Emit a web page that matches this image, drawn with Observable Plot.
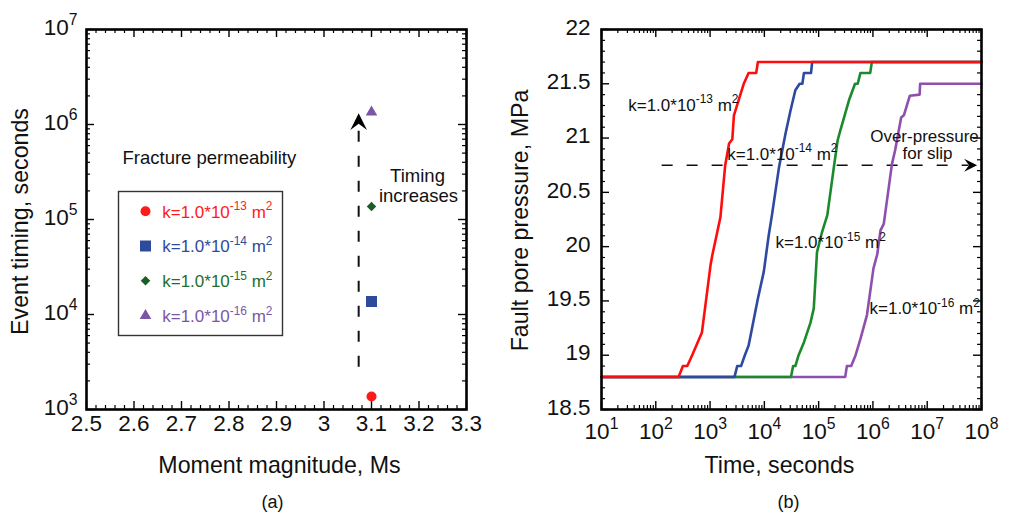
<!DOCTYPE html>
<html><head><meta charset="utf-8">
<script src="https://cdn.jsdelivr.net/npm/d3@7"></script>
<script src="https://cdn.jsdelivr.net/npm/@observablehq/plot@0.6"></script>
<style>
html,body{margin:0;padding:0;background:#fff;}
#wrap{position:relative;width:1011px;height:512px;overflow:hidden;background:#fff;}
#left{position:absolute;left:0;top:0;}
#right{position:absolute;left:500px;top:0;}
</style></head><body>
<div id="wrap"><div id="left"></div><div id="right"></div></div>
<script>
// ---------- Panel (a) data ----------
const seriesKeys = ["k13", "k14", "k15", "k16"];
const permLabels = ["k=1.0*10^{-13} m^{2}", "k=1.0*10^{-14} m^{2}", "k=1.0*10^{-15} m^{2}", "k=1.0*10^{-16} m^{2}"];
const momentMagnitude = [3.1, 3.1, 3.1, 3.1];
const eventTiming = [1370, 13700, 137000, 1350000];
const markerSymbols = ["circle", "square", "diamond2", "triangle"];
const markerColors = ["#ff1a1a", "#2e4b9b", "#1a5e26", "#7c56a6"];
const legendTextColors = ["#ff1a1a", "#2e4b9b", "#1f6e2b", "#7c56a6"];
const magTickValues = [2.5, 2.6, 2.7, 2.8, 2.9, 3.0, 3.1, 3.2, 3.3];
const magTickLabels = ["2.5", "2.6", "2.7", "2.8", "2.9", "3", "3.1", "3.2", "3.3"];
const timingTickValues = [1e3, 1e4, 1e5, 1e6, 1e7];
const timingTickLabels = ["10^{3}", "10^{4}", "10^{5}", "10^{6}", "10^{7}"];
const timingArrowX = 3.073;
const timingArrowY = [2790, 980000, 1310000]; // dashed start, dashed end, tip

// ---------- Panel (b) data ----------
const redTime = [10, 263, 316, 380, 468, 617, 708, 1020, 1100, 1550, 1900, 2240, 2570, 2750, 4170, 5130, 7080, 7590, 1e8];
const redPressure = [18.8, 18.8, 18.9, 18.9, 19.0, 19.14, 19.21, 19.83, 19.92, 20.27, 20.75, 20.95, 20.99, 21.21, 21.5, 21.6, 21.6, 21.7, 21.7];
const blueTime = [10, 2820, 3160, 3720, 4370, 5130, 7590, 9770, 12000, 13800, 18600, 24500, 30200, 37200, 44700, 50100, 53700, 72400, 75900, 1e8];
const bluePressure = [18.8, 18.8, 18.9, 18.9, 19.0, 19.09, 19.52, 19.77, 20.10, 20.29, 20.73, 21.04, 21.25, 21.44, 21.5, 21.5, 21.6, 21.6, 21.7, 21.7];
const greenTime = [10, 30900, 33900, 37200, 42700, 53700, 70800, 81300, 93300, 114800, 144500, 190500, 223900, 251200, 363100, 467700, 524800, 588800, 891300, 955000, 1e8];
const greenPressure = [18.8, 18.8, 18.9, 18.9, 19.0, 19.12, 19.30, 19.43, 19.95, 20.13, 20.29, 20.73, 20.98, 21.07, 21.35, 21.5, 21.5, 21.6, 21.6, 21.7, 21.7];
const purpleTime = [10, 309000, 331000, 398000, 479000, 589000, 776000, 1023000, 1202000, 1380000, 1585000, 2239000, 2570000, 3311000, 3715000, 4786000, 7244000, 7413000, 1e8];
const purplePressure = [18.8, 18.8, 18.9, 18.9, 19.0, 19.15, 19.37, 19.80, 19.93, 20.15, 20.21, 20.76, 20.89, 21.19, 21.21, 21.39, 21.4, 21.5, 21.5];
const curveColors = ["#ff0d0d", "#2d4aa0", "#1c8a2c", "#8f4fae"];
const timeTickValues = [1e1, 1e2, 1e3, 1e4, 1e5, 1e6, 1e7, 1e8];
const timeTickLabels = ["10^{1}", "10^{2}", "10^{3}", "10^{4}", "10^{5}", "10^{6}", "10^{7}", "10^{8}"];
const pressureTickValues = [18.5, 19, 19.5, 20, 20.5, 21, 21.5, 22];
const pressureTickLabels = ["18.5", "19", "19.5", "20", "20.5", "21", "21.5", "22"];
const overPressure = 20.75;
const overPressureArrow = [131, 5.9e7, 8.3e7]; // dashed start, dashed end, tip

// ---------- helpers ----------
const FONT = "'Liberation Sans', Arial, Helvetica, sans-serif";
const FRAME = 380;
const TICK_FS = 22.5, TITLE_FS = 23.2;
const stealth = {
  draw(ctx, size) {
    const L = Math.sqrt(size / Math.PI) * 2;
    ctx.moveTo(0, 0);
    ctx.lineTo(L * 0.5, L);
    ctx.lineTo(0, L * 0.62);
    ctx.lineTo(-L * 0.5, L);
    ctx.closePath();
  }
};
function xTicks(values, len, w) {
  return [
    Plot.ruleX(values, {x: d => d, insetTop: FRAME - len, stroke: "#000", strokeWidth: w}),
    Plot.ruleX(values, {x: d => d, insetBottom: FRAME - len, stroke: "#000", strokeWidth: w})
  ];
}
function yTicks(values, len, w) {
  return [
    Plot.ruleY(values, {y: d => d, insetRight: FRAME - len, stroke: "#000", strokeWidth: w}),
    Plot.ruleY(values, {y: d => d, insetLeft: FRAME - len, stroke: "#000", strokeWidth: w})
  ];
}
function logMinor(k0, k1) {
  const out = [];
  for (let k = k0; k < k1; k++) for (let m = 2; m <= 9; m++) out.push(m * Math.pow(10, k));
  return out;
}
function applySup(svg) {
  for (const t of svg.querySelectorAll("text")) {
    const s = t.textContent;
    if (!s.includes("^{")) continue;
    const parts = s.split(/\^\{([^}]*)\}/);
    t.textContent = "";
    let raised = false;
    parts.forEach((p, i) => {
      if (p === "") return;
      const ts = document.createElementNS("http://www.w3.org/2000/svg", "tspan");
      ts.textContent = p;
      if (i % 2 === 1) { ts.setAttribute("font-size", "70%"); ts.setAttribute("dy", "-0.6em"); raised = true; }
      else if (raised) { ts.setAttribute("dy", "0.42em"); raised = false; }
      t.appendChild(ts);
    });
  }
}
const label = (txt, o) => Plot.text([txt], {frameAnchor: "top-left", textAnchor: "start", lineAnchor: "bottom", fill: "#111", ...o});
const clabel = (txt, o) => Plot.text([txt], {frameAnchor: "top-left", textAnchor: "middle", lineAnchor: "bottom", fill: "#111", ...o});

// ---------- Panel (a) ----------
const pointData = seriesKeys.map((k, i) => ({key: k, m: momentMagnitude[i], t: eventTiming[i]}));
const magMinor = d3.range(0, 41).filter(i => i % 5 !== 0).map(i => 2.5 + i * 0.02);
const symbolR = [5, 6.2, 4.3, 4.3];

const left = Plot.plot({
  width: 500, height: 512,
  marginLeft: 86, marginRight: 34, marginTop: 29, marginBottom: 103,
  x: {domain: [2.5, 3.3], axis: null},
  y: {type: "log", domain: [1e3, 1e7], axis: null},
  style: {fontFamily: FONT, background: "white", overflow: "visible"},
  marks: [
    ...xTicks(magTickValues, 8, 1.4),
    ...xTicks(magMinor, 4, 1.2),
    ...yTicks(timingTickValues, 8, 1.4),
    ...yTicks(logMinor(3, 7), 4, 1.2),
    Plot.frame({stroke: "#000", strokeWidth: 2.6}),
    // tick labels
    Plot.text(magTickValues, {x: d => d, text: (d, i) => magTickLabels[i], frameAnchor: "bottom", dy: 21, fontSize: TICK_FS, fill: "#111"}),
    Plot.text(timingTickValues, {y: d => d, text: (d, i) => timingTickLabels[i], frameAnchor: "left", dx: -9, dy: -2, textAnchor: "end", fontSize: TICK_FS, fill: "#111"}),
    // axis titles
    Plot.text(["Moment magnitude, Ms"], {frameAnchor: "bottom", textAnchor: "middle", dx: 3, dy: 63, lineAnchor: "bottom", fontSize: TITLE_FS, fill: "#111"}),
    Plot.text(["Event timing, seconds"], {frameAnchor: "left", textAnchor: "middle", dx: -66, dy: 2, rotate: -90, fontSize: TITLE_FS, fill: "#111"}),
    Plot.text(["(a)"], {frameAnchor: "bottom", textAnchor: "middle", dx: -4, dy: 98, lineAnchor: "bottom", fontSize: 18, fill: "#111"}),
    // timing arrow
    Plot.ruleX([timingArrowX], {x: d => d, y1: timingArrowY[0], y2: timingArrowY[1], stroke: "#111", strokeWidth: 2, strokeDasharray: "11,14"}),
    Plot.dot([timingArrowX], {x: d => d, y: timingArrowY[2], symbol: stealth, r: 8.3, fill: "#000", stroke: "none"}),
    // data points
    ...pointData.map((d, i) => Plot.dot([d], {x: "m", y: "t", symbol: markerSymbols[i], r: symbolR[i], fill: markerColors[i], stroke: "none"})),
    // annotations
    label("Fracture permeability", {dx: 36, dy: 134.3, fontSize: 18.5}),
    clabel("Timing", {dx: 331, dy: 152, fontSize: 18.5}),
    clabel("increases", {dx: 332, dy: 172.7, fontSize: 18.5}),
    // legend
    Plot.frame({insetLeft: 32, insetTop: 162, insetRight: 184, insetBottom: 74, stroke: "#333", strokeWidth: 1.4}),
    ...seriesKeys.map((k, i) => Plot.dot([k], {frameAnchor: "top-left", dx: 59, dy: 181.7 + i * 34.8, symbol: markerSymbols[i], r: symbolR[i], fill: markerColors[i], stroke: "none"})),
    ...seriesKeys.map((k, i) => label(permLabels[i], {dx: 75.7, dy: 188 + i * 34.8, fontSize: 17, fill: legendTextColors[i]}))
  ]
});
applySup(left);
document.getElementById("left").appendChild(left);

// ---------- Panel (b) ----------
const curves = [
  {t: purpleTime, p: purplePressure, c: curveColors[3]},
  {t: greenTime, p: greenPressure, c: curveColors[2]},
  {t: blueTime, p: bluePressure, c: curveColors[1]},
  {t: redTime, p: redPressure, c: curveColors[0]}
];
const pressMinor = d3.range(0, 36).filter(i => i % 5 !== 0).map(i => 18.5 + i * 0.1);

const right = Plot.plot({
  width: 511, height: 512,
  marginLeft: 101, marginRight: 30, marginTop: 29, marginBottom: 103,
  x: {type: "log", domain: [1e1, 1e8], axis: null},
  y: {domain: [18.5, 22], axis: null},
  style: {fontFamily: FONT, background: "white", overflow: "visible"},
  marks: [
    ...xTicks(timeTickValues, 8, 1.4),
    ...xTicks(logMinor(1, 8), 4, 1.2),
    ...yTicks(pressureTickValues, 8, 1.4),
    ...yTicks(pressMinor, 4, 1.2),
    // over-pressure arrow
    Plot.ruleY([overPressure], {y: d => d, x1: overPressureArrow[0], x2: overPressureArrow[1], stroke: "#111", strokeWidth: 1.6, strokeDasharray: "11,14"}),
    Plot.dot([overPressure], {x: overPressureArrow[2], y: d => d, symbol: stealth, r: 6.5, rotate: 90, fill: "#000", stroke: "none"}),
    // curves
    ...curves.map(c => Plot.line(c.t.map((t, i) => ({t, p: c.p[i]})), {x: "t", y: "p", stroke: c.c, strokeWidth: 2.6, strokeLinejoin: "round"})),
    Plot.frame({stroke: "#000", strokeWidth: 2.6}),
    // tick labels
    Plot.text(timeTickValues, {x: d => d, text: (d, i) => timeTickLabels[i], frameAnchor: "bottom", textAnchor: "middle", dy: 29, fontSize: TICK_FS, fill: "#111"}),
    Plot.text(pressureTickValues, {y: d => d, text: (d, i) => pressureTickLabels[i], frameAnchor: "left", dx: -11, dy: -2, textAnchor: "end", fontSize: TICK_FS, fill: "#111"}),
    // axis titles
    Plot.text(["Time, seconds"], {frameAnchor: "bottom", textAnchor: "middle", dx: -12, dy: 63.5, lineAnchor: "bottom", fontSize: TITLE_FS, fill: "#111"}),
    Plot.text(["Fault pore pressure, MPa"], {frameAnchor: "left", textAnchor: "middle", dx: -81, dy: 1, rotate: -90, fontSize: TITLE_FS, fill: "#111"}),
    Plot.text(["(b)"], {frameAnchor: "bottom", textAnchor: "middle", dx: -3, dy: 98, lineAnchor: "bottom", fontSize: 18, fill: "#111"}),
    // annotations
    label(permLabels[0], {dx: 26.7, dy: 81, fontSize: 17}),
    label(permLabels[1], {dx: 125.7, dy: 130, fontSize: 17}),
    label(permLabels[2], {dx: 174, dy: 218.7, fontSize: 17}),
    label(permLabels[3], {dx: 268, dy: 284.3, fontSize: 17}),
    clabel("Over-pressure", {dx: 323, dy: 112.7, fontSize: 17}),
    clabel("for slip", {dx: 326, dy: 129.3, fontSize: 17})
  ]
});
applySup(right);
document.getElementById("right").appendChild(right);
</script>
</body></html>
